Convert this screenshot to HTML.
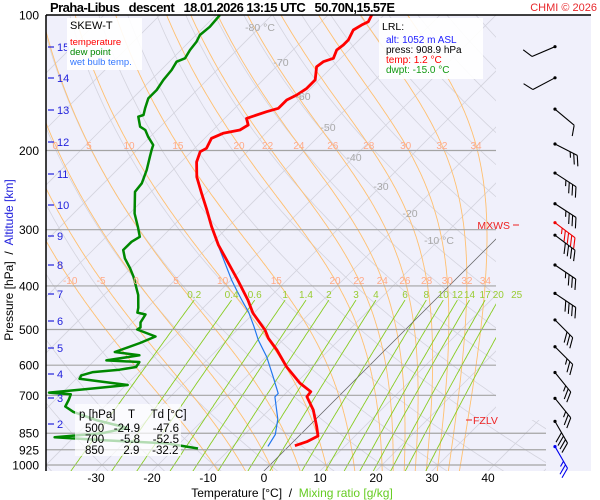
<!DOCTYPE html>
<html><head><meta charset="utf-8"><style>
html,body{margin:0;padding:0;background:#fff;}
svg{display:block;font-family:"Liberation Sans",sans-serif;}
</style></head><body>
<svg id="chart" width="600" height="500" viewBox="0 0 600 500" xmlns="http://www.w3.org/2000/svg">
<defs><clipPath id="plotclip"><polygon points="46,15 496,15 496,420 546,420 546,471 46,471"/></clipPath>
<clipPath id="fullclip"><rect x="46" y="15" width="545" height="456"/></clipPath></defs>
<rect x="46" y="15" width="545" height="456" fill="#f0f0fb"/>
<g id="bg" clip-path="url(#plotclip)"></g>
<g id="hlines"></g>
<g id="series" clip-path="url(#fullclip)"></g>
<g id="winds"></g>
<line x1="46" y1="15" x2="591" y2="15" stroke="#000" stroke-width="1.5"/>
<line x1="46" y1="15" x2="46" y2="471" stroke="#000" stroke-width="1.5"/>
<g id="axes"></g>
<text x="50" y="12" font-size="13" font-weight="bold" xml:space="preserve" textLength="345">Praha-Libus   descent   18.01.2026 13:15 UTC   50.70N,15.57E</text>
<text x="597" y="11" font-size="11" fill="#e8282c" text-anchor="end">CHMI © 2026</text>
<g>
<rect x="67" y="18" width="75" height="52" fill="#fff" fill-opacity="0.9"/>
<text x="70" y="29" font-size="11">SKEW-T</text>
<text x="70" y="45" font-size="9.5" fill="#ff0000">temperature</text>
<text x="70" y="55" font-size="9.5" fill="#008800">dew point</text>
<text x="70" y="65" font-size="9.5" fill="#3377ff">wet bulb temp.</text>
</g>
<g>
<rect x="379" y="18" width="104" height="61" fill="#fff" fill-opacity="0.9"/>
<text x="382" y="30" font-size="10.5">LRL:</text>
<text x="386" y="43" font-size="10" fill="#2020ff">alt: 1052 m ASL</text>
<text x="386" y="53" font-size="10">press: 908.9 hPa</text>
<text x="386" y="63" font-size="10" fill="#ff0000">temp: 1.2 °C</text>
<text x="386" y="73" font-size="10" fill="#119911">dwpt: -15.0 °C</text>
</g>
<g>
<rect x="75" y="404" width="106" height="52" fill="#fff" fill-opacity="0.7"/>
<text x="79" y="418" font-size="11.5" xml:space="preserve">p [hPa]    T     Td [°C]</text>
<text x="85" y="432" font-size="11.5" xml:space="preserve">500   -24.9    -47.6</text>
<text x="85" y="443" font-size="11.5" xml:space="preserve">700     -5.8    -52.5</text>
<text x="85" y="454" font-size="11.5" xml:space="preserve">850      2.9    -32.2</text>
</g>
<g>
<text x="510" y="229" font-size="10.5" fill="#ee2222" text-anchor="end">MXWS</text>
<line x1="513" y1="225" x2="519" y2="225" stroke="#ee2222"/>
</g>
<g>
<line x1="466" y1="420" x2="472" y2="420" stroke="#ee2222"/>
<text x="473" y="424" font-size="10.5" fill="#ee2222">FZLV</text>
</g>
</svg>
<script>
const tempP = [100,103.5,105.2,108,113.6,116.6,119.6,124.8,127,130.3,139.4,145.6,150.6,154.5,161.2,164,169.7,175.6,180.1,183.2,187.9,197.8,201.3,212.2,229.1,248.6,271.3,295.3,324.4,388,429.9,459.5,501.2,523,555.2,604.8,657.5,687.3,705.2,754.6,822.1,862.1,887.5,905.9];
const tempT = [-62.2,-61.6,-62.2,-62.8,-61.9,-61.9,-62.2,-61.3,-62.5,-62.8,-60.7,-60.7,-61.3,-62.2,-62.2,-63.7,-66.1,-64.6,-65.2,-67.6,-68.8,-67.9,-68.4,-67.2,-64.5,-60.8,-56.8,-53.0,-48.5,-38.8,-33.4,-30.2,-25.0,-22.9,-19.3,-14.6,-9.3,-5.8,-5.6,-2.1,1.5,3.4,2.4,1.0];
const dewP = [100,106.2,110.8,114.6,119.6,124.8,127,132.5,139.4,146.8,153.2,161.2,166.8,168.3,177.1,180.1,186.4,194.5,199.5,206.5,221,236.6,247.1,276.1,295.8,311.1,319.1,332.9,347.4,365.5,381.6,419,447.2,458.4,463,482,494.6,500,518.1,535.7,560.9,570.6,585.4,590.5,605.8,614,621.6,632.4,643.4,664,678.1,690.4,696.3,715.2,741.4,762,796.1,827.2,850.4,867.9,881.6,895.5,919.2];
const dewT = [-89.3,-89.0,-89.3,-88.7,-88.4,-87.8,-88.7,-88.1,-87.8,-87.2,-87.2,-86.0,-85.1,-85.7,-83.6,-82.1,-80.4,-78.0,-77.4,-76.5,-74.7,-73.2,-72.9,-69.1,-66.1,-64.0,-64.6,-64.6,-62.8,-60.1,-58.0,-53.9,-51.6,-50.9,-49.1,-48.6,-47.7,-47.9,-43.4,-45.0,-47.9,-42.9,-47.9,-41.7,-41.4,-43.9,-48.2,-49.7,-49.4,-39.7,-46.4,-52.4,-48.2,-47.6,-47.0,-44.6,-38.8,-32.1,-35.7,-43.4,-33.6,-22.3,-15.8];
const wbP = [311.1,388,408.6,429.9,458.4,491.3,527.6,574.9,636.6,693.5,705.5,790.6,855.6,909.2];
const wbT = [-50.6,-39.9,-37.2,-34.5,-31.0,-27.7,-24.4,-19.9,-15.2,-11.3,-11.3,-6.8,-4.5,-3.7];
const windP = [117.6,137.9,161.9,193.5,224.5,262.7,289.4,308.5,359.4,415.6,476,546,623,711,800,910];
const windDir = [247,242,130,117,123,123,127,127,124,124,135,135,141,141,150,150];
const windSpd = [10,10,10,25,35,35,45,40,35,40,30,25,25,25,40,25];
const pressureTicks = [100,200,300,400,500,600,700,850,925,1000];
const tempTicks = [-30,-20,-10,0,10,20,30,40];
const mixRatios = [0.2,0.4,0.6,1,1.4,2,3,4,6,8,10,12,14,17,20,25];
const mixLabels = ["0.2","0.4","0.6","1","1.4","2","3","4","6","8","10","12","14","17","20","25"];
const moistThetas = [-10,-5,0,5,10,15,20,22,24,26,28,30,32,34];
const moistLabelsTop = [0,5,10,15,20,22,24,26,28,30,32,34];
const isoLabelT = [-80,-70,-60,-50,-40,-30,-20,-10];
const isoLabelY = [27,62,96,127,157,186,213,240];
const kmLabels = [15,14,13,12,11,10,9,8,7,6,5,4,3,2];
const kmY = [47,78,110,142,174,205,236,265,294,321,348,374,398,424];

const NS='http://www.w3.org/2000/svg';
function yOf(p){return 15+450*Math.log10(p/100);}
function xOf(T,p){return 264+5.6*T+(471-yOf(p));}
function mk(tag,attrs,parent){const e=document.createElementNS(NS,tag);for(const k in attrs)e.setAttribute(k,attrs[k]);parent.appendChild(e);return e;}
const bg=document.getElementById('bg'),hl=document.getElementById('hlines'),se=document.getElementById('series'),wd=document.getElementById('winds'),ax=document.getElementById('axes');
function pathFrom(ps,ts){return ps.map((p,i)=>(i?'L':'M')+xOf(ts[i],p).toFixed(1)+','+yOf(p).toFixed(1)).join(' ');}
const pAll=[];for(let p=100;p<=1035;p+=5)pAll.push(p);

for(let T=-140;T<=50;T+=10){
  const l=mk('line',{x1:xOf(T,1035),y1:yOf(1035),x2:xOf(T,100),y2:yOf(100),stroke:'#d4d4de','stroke-width':0.8},bg);
  
  
}
for(let th=-40;th<=220;th+=10){
  const d=pAll.map((p,i)=>{const T=(th+273.15)*Math.pow(p/1000,0.2857)-273.15;return (i?'L':'M')+xOf(T,p).toFixed(1)+','+yOf(p).toFixed(1);}).join(' ');
  const e=mk('path',{d:d,fill:'none',stroke:'#d4d4de','stroke-width':0.8},bg);
  
  
}
function es(Tc){return 6.112*Math.exp(17.67*Tc/(Tc+243.5));}
function dTdp(p,T){const Tc=T-273.15;const e=es(Tc);const rs=0.622*e/(p-e);return (287.04*T+2.501e6*rs)/(1005.7+2.501e6*2.501e6*rs*0.622/(287.04*T*T))/p;}
function moist(th){const up=[],dn=[];let T=th+273.15;for(let p=1000;p>=100;p-=2){up.push([p,T-273.15]);T-=2*dTdp(p,T);}T=th+273.15;for(let p=1000;p<=1036;p+=2){dn.push([p,T-273.15]);T+=2*dTdp(p,T);}return dn.reverse().concat(up.slice(1));}
function tAt(curve,p){for(let i=0;i<curve.length-1;i++){const a=curve[i],b=curve[i+1];if((a[0]-p)*(b[0]-p)<=0){const f=(p-a[0])/(b[0]-a[0]);return a[1]+f*(b[1]-a[1]);}}return 0;}
const moistCurves={};
moistThetas.forEach(th=>{
  const c=moist(th);moistCurves[th]=c;
  const e=mk('path',{d:pathFrom(c.map(q=>q[0]),c.map(q=>q[1])),fill:'none',stroke:'#ffc070','stroke-width':0.9},bg);
  
  
});
function tdFor(w,p){const e=w*p/(622+w);const l=Math.log(e/6.112);return 243.5*l/(17.67-l);}
const pMix=[];for(let p=430;p<=1035;p+=5)pMix.push(p);
mixRatios.forEach((w,i)=>{
  const e=mk('path',{d:pathFrom(pMix,pMix.map(p=>tdFor(w,p))),fill:'none',stroke:'#88cc22','stroke-width':0.9},bg);
  
  
  const t=mk('text',{x:xOf(tdFor(w,430),430).toFixed(1),y:298,'font-size':10,fill:'#99cc33','text-anchor':'middle'},ax);
  t.textContent=mixLabels[i];
  
  
});
const pTop=100*Math.pow(10,(145-15)/450), pMid=100*Math.pow(10,(280-15)/450);
moistLabelsTop.forEach(th=>{
  const x=xOf(tAt(moistCurves[th],pTop),pTop);
  if(x<46||x>496)return;
  const t=mk('text',{x:x.toFixed(1),y:149,'font-size':10,fill:'#ffaa88','text-anchor':'middle'},ax);
  t.textContent=th;
  
  
});
moistThetas.forEach(th=>{
  const x=xOf(tAt(moistCurves[th],pMid),pMid);
  if(x<40||x>496)return;
  const t=mk('text',{x:x.toFixed(1),y:284,'font-size':10,fill:'#ffaa88','text-anchor':'middle'},ax);
  t.textContent=th;
  
  
});
isoLabelT.forEach((T,i)=>{
  const y=isoLabelY[i];const x=264+5.6*T+(471-y);
  const t=mk('text',{x:x.toFixed(1),y:y+4,'font-size':10.5,fill:'#a8a8a8','text-anchor':'middle'},ax);
  t.textContent=(i===0||i===isoLabelT.length-1)?T+' °C':String(T);
  
  
});
pressureTicks.forEach(p=>{
  const y=yOf(p);
  if(p>100){const l=mk('line',{x1:46,y1:y,x2:p>=850?546:496,y2:y,stroke:'#a4a4a4','stroke-width':1.2},hl);
  
  }
  const t=mk('text',{x:39,y:y+4.5,'font-size':12,'text-anchor':'end'},ax);
  t.textContent=p;
  
  
});
kmLabels.forEach((k,i)=>{
  const y=kmY[i];
  mk('line',{x1:48,y1:y,x2:54,y2:y,stroke:'#2222dd','stroke-width':1.2},ax);
  const t=mk('text',{x:57,y:y+4,'font-size':11,fill:'#2222dd'},ax);
  t.textContent=k;
  
  
});
tempTicks.forEach(T=>{
  const t=mk('text',{x:264+5.6*T,y:482,'font-size':12,'text-anchor':'middle'},ax);
  t.textContent=T;
  
  
});
const yt=mk('text',{x:0,y:0,'font-size':12,'text-anchor':'middle',transform:'translate(13,260) rotate(-90)'},ax);


const yt1=mk('tspan',{},yt);yt1.textContent='Pressure [hPa] \u00a0/\u00a0 ';
const yt2=mk('tspan',{fill:'#2222dd'},yt);yt2.textContent='Altitude [km]';
const xt=mk('text',{x:292,y:497,'font-size':12,'text-anchor':'middle'},ax);


const xt1=mk('tspan',{},xt);xt1.textContent='Temperature [°C] \u00a0/\u00a0 ';
const xt2=mk('tspan',{fill:'#66cc22'},xt);xt2.textContent='Mixing ratio [g/kg]';

const zl=mk('line',{x1:xOf(0,1035),y1:yOf(1035),x2:xOf(0,300),y2:yOf(300),stroke:'#666','stroke-width':0.7},bg);



const wb=mk('path',{d:pathFrom(wbP,wbT),fill:'none',stroke:'#2277ee','stroke-width':1.2},se);


const dw=mk('path',{d:pathFrom(dewP,dewT),fill:'none',stroke:'#008800','stroke-width':2.5,'stroke-linejoin':'round'},se);


const tl=mk('path',{d:pathFrom(tempP,tempT),fill:'none',stroke:'#ff0000','stroke-width':2.8,'stroke-linejoin':'round'},se);



windP.forEach((p,i)=>{
  const y=yOf(p), x=555;
  const col=i===6?'#ee0000':(i===windP.length-1?'#0000ee':'#000');
  const g=mk('g',{stroke:col,'stroke-width':1.1,fill:'none'},wd);
  
  
  const a=windDir[i]*Math.PI/180;const dx=Math.sin(a),dy=-Math.cos(a);
  const L=25;const tx=x+dx*L,ty=y+dy*L;
  mk('line',{x1:x,y1:y,x2:tx,y2:ty},g);
  mk('circle',{cx:x,cy:y,r:1.6,fill:col,stroke:'none'},g);
  const b=a+Math.PI/3;const bx=Math.sin(b),by=-Math.cos(b);
  let s=windSpd[i],k=0;
  while(s>=10){const px=tx-dx*4*k,py=ty-dy*4*k;mk('line',{x1:px,y1:py,x2:px+bx*11,y2:py+by*11},g);s-=10;k++;}
  if(s>=5){const px=tx-dx*4*k,py=ty-dy*4*k;mk('line',{x1:px,y1:py,x2:px+bx*6,y2:py+by*6},g);}
});
</script>
</body></html>
